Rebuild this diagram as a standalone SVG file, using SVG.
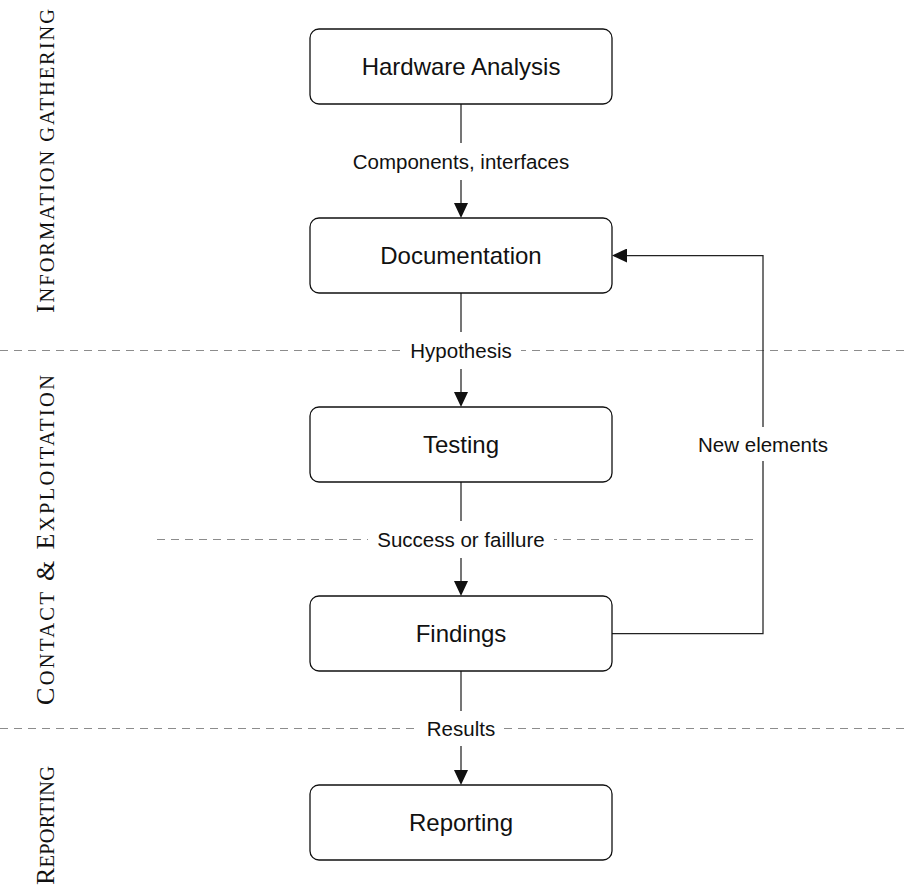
<svg xmlns="http://www.w3.org/2000/svg" width="904" height="893" viewBox="0 0 904 893">
  <style>
    .box { fill: #ffffff; stroke: #111111; stroke-width: 1.3; }
    .node-text { font-family: "Liberation Sans", Arial, sans-serif; font-size: 24px; fill: #111111; text-anchor: middle; }
    .edge { fill: none; stroke: #222222; stroke-width: 1.25; }
    .edge-bg { fill: #ffffff; }
    .edge-text { font-family: "Liberation Sans", Arial, sans-serif; font-size: 20.5px; fill: #111111; text-anchor: middle; }
    .sep { fill: none; stroke: #8c8c8c; stroke-width: 1.1; stroke-dasharray: 8 6; }
    .phase { font-family: "Liberation Serif", "Times New Roman", serif; fill: #111111; }
    .cap { font-size: 26px; }
    .sc { font-size: 20.5px; }
  </style>
  <defs>
    <marker id="arrow" markerUnits="userSpaceOnUse" markerWidth="16" markerHeight="14" refX="13" refY="7" orient="auto">
      <path d="M0,0 L15,7 L0,14 Z" fill="#111111"/>
    </marker>
  </defs>

  <rect x="0" y="0" width="904" height="893" fill="#ffffff"/>

  <!-- phase separators -->
  <g id="separators">
    <line class="sep" x1="0" y1="350.5" x2="904" y2="350.5"/>
    <line class="sep" x1="157" y1="539.5" x2="757" y2="539.5"/>
    <line class="sep" x1="0" y1="728.5" x2="904" y2="728.5"/>
  </g>

  <!-- phase titles, rotated along the left margin -->
  <g id="phases">
    <text class="phase" transform="translate(54,313) rotate(-90)" textLength="304" lengthAdjust="spacing"><tspan class="cap">I</tspan><tspan class="sc">NFORMATION GATHERING</tspan></text>
    <text class="phase" transform="translate(54,705) rotate(-90)" textLength="330" lengthAdjust="spacing"><tspan class="cap">C</tspan><tspan class="sc">ONTACT</tspan><tspan class="cap"> &amp; E</tspan><tspan class="sc">XPLOITATION</tspan></text>
    <text class="phase" transform="translate(54,885) rotate(-90)" textLength="119" lengthAdjust="spacing"><tspan class="cap">R</tspan><tspan class="sc">EPORTING</tspan></text>
  </g>

  <!-- connectors -->
  <g id="connectors">
    <path class="edge" d="M461,104 V216" marker-end="url(#arrow)"/>
    <path class="edge" d="M461,293 V405" marker-end="url(#arrow)"/>
    <path class="edge" d="M461,482 V594" marker-end="url(#arrow)"/>
    <path class="edge" d="M461,671 V783" marker-end="url(#arrow)"/>
    <path class="edge" d="M612,633.5 H763 V255.5 H614" marker-end="url(#arrow)"/>

    <rect class="edge-bg" x="344" y="143" width="234" height="37"/>
    <text class="edge-text" x="461" y="168.5">Components, interfaces</text>

    <rect class="edge-bg" x="401" y="332" width="120" height="37"/>
    <text class="edge-text" x="461" y="357.5">Hypothesis</text>

    <rect class="edge-bg" x="368" y="521" width="186" height="37"/>
    <text class="edge-text" x="461" y="546.5">Success or faillure</text>

    <rect class="edge-bg" x="418" y="711" width="86" height="35"/>
    <text class="edge-text" x="461" y="735.5">Results</text>

    <rect class="edge-bg" x="692" y="427" width="142" height="34"/>
    <text class="edge-text" x="763" y="451.5">New elements</text>
  </g>

  <!-- nodes -->
  <g id="node-hardware-analysis">
    <rect class="box" x="310" y="29" width="302" height="75" rx="9" ry="9"/>
    <text class="node-text" x="461" y="75">Hardware Analysis</text>
  </g>
  <g id="node-documentation">
    <rect class="box" x="310" y="218" width="302" height="75" rx="9" ry="9"/>
    <text class="node-text" x="461" y="264">Documentation</text>
  </g>
  <g id="node-testing">
    <rect class="box" x="310" y="407" width="302" height="75" rx="9" ry="9"/>
    <text class="node-text" x="461" y="453">Testing</text>
  </g>
  <g id="node-findings">
    <rect class="box" x="310" y="596" width="302" height="75" rx="9" ry="9"/>
    <text class="node-text" x="461" y="642">Findings</text>
  </g>
  <g id="node-reporting">
    <rect class="box" x="310" y="785" width="302" height="75" rx="9" ry="9"/>
    <text class="node-text" x="461" y="831">Reporting</text>
  </g>
</svg>
